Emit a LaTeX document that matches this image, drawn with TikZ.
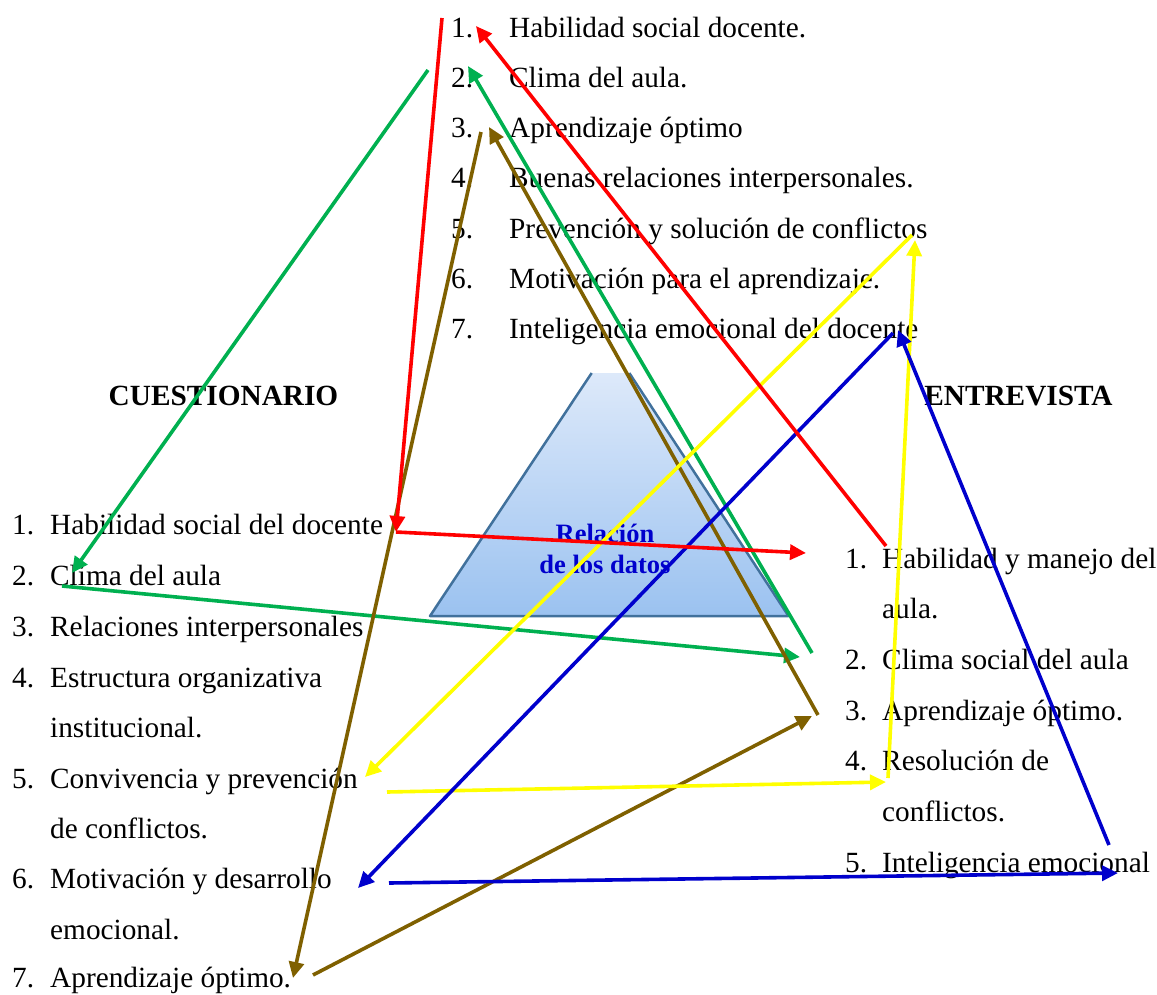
\documentclass[tikz,border=0pt]{standalone}
\usepackage{fontspec}
\setmainfont{Liberation Serif}
\usetikzlibrary{arrows.meta}
\definecolor{cred}{RGB}{255,0,0}
\definecolor{cgreen}{RGB}{0,176,80}
\definecolor{cbrown}{RGB}{127,96,0}
\definecolor{cyellow}{RGB}{255,255,0}
\definecolor{cblue}{RGB}{0,0,204}
\definecolor{triedge}{RGB}{65,113,156}
\definecolor{tritop}{RGB}{221,233,250}
\definecolor{tribot}{RGB}{155,194,240}
\definecolor{reltext}{RGB}{0,0,204}
\tikzset{
 txt/.style={anchor=base west, inner sep=0pt, font=\fontsize{29.3}{35}\selectfont},
 head/.style={anchor=base, inner sep=0pt, font=\fontsize{29.3}{35}\selectfont\bfseries},
 rel/.style={anchor=base, inner sep=0pt, text=reltext, font=\fontsize{26.5}{31}\selectfont\bfseries},
 link/.style={line width=3.6pt, -{Triangle[length=16pt,width=15pt]}},
}
\begin{document}
\begin{tikzpicture}[x=1pt,y=-1pt]
\useasboundingbox (0,0) rectangle (1157,994);
% triangle
\shade[top color=tritop, bottom color=tribot] (591.7,373) -- (430,616) -- (788.5,616) -- (629.3,373) -- cycle;
\draw[triedge, line width=2.5pt, line join=round] (591.7,373) -- (430,616) -- (788.5,616) -- (629.3,373);
\node[rel] (rel1) at (605,542) {Relación};
\node[rel] (rel2) at (605,573) {de los datos};
% headings
\node[head] (hc) at (223.5,405) {CUESTIONARIO};
\node[head] (he) at (1018.5,405) {ENTREVISTA};
% top list
\foreach \i/\t [count=\k] in {1/Habilidad social docente.,2/Clima del aula.,3/Aprendizaje óptimo,4/Buenas relaciones interpersonales.,5/Prevención y solución de conflictos,6/Motivación para el aprendizaje.,7/Inteligencia emocional del docente}{
  \node[txt] (tn\k) at (451,{37+50.3*(\k-1)}) {\i.};
  \node[txt] (tt\k) at (509,{37+50.3*(\k-1)}) {\t};
}
% left list
\node[txt] (ln1) at (12,534) {1.}; \node[txt] (lt1) at (50,534) {Habilidad social del docente};
\node[txt] (ln2) at (12,585) {2.}; \node[txt] (lt2) at (50,585) {Clima del aula};
\node[txt] (ln3) at (12,636) {3.}; \node[txt] (lt3) at (50,636) {Relaciones interpersonales};
\node[txt] (ln4) at (12,687) {4.}; \node[txt] (lt4) at (50,687) {Estructura organizativa};
\node[txt] (lt4b) at (50,737) {institucional.};
\node[txt] (ln5) at (12,788) {5.}; \node[txt] (lt5) at (50,788) {Convivencia y prevención};
\node[txt] (lt5b) at (50,838) {de conflictos.};
\node[txt] (ln6) at (12,888) {6.}; \node[txt] (lt6) at (50,888) {Motivación y desarrollo};
\node[txt] (lt6b) at (50,939) {emocional.};
\node[txt] (ln7) at (12,987) {7.}; \node[txt] (lt7) at (50,987) {Aprendizaje óptimo.};
% right list
\node[txt] (rn1) at (845,568) {1.}; \node[txt] (rt1) at (882,568) {Habilidad y manejo del};
\node[txt] (rt1b) at (882,618) {aula.};
\node[txt] (rn2) at (845,669) {2.}; \node[txt] (rt2) at (882,669) {Clima social del aula};
\node[txt] (rn3) at (845,720) {3.}; \node[txt] (rt3) at (882,720) {Aprendizaje óptimo.};
\node[txt] (rn4) at (845,770) {4.}; \node[txt] (rt4) at (882,770) {Resolución de};
\node[txt] (rt4b) at (882,821) {conflictos.};
\node[txt] (rn5) at (845,872) {5.}; \node[txt] (rt5) at (882,872) {Inteligencia emocional};
% connector end points
\coordinate (rA0) at (442,18); \coordinate (rA1) at (396,532); \coordinate (rA2) at (806,553);
\coordinate (rB0) at (886,546); \coordinate (rB1) at (476,26);
\coordinate (gA0) at (428,70); \coordinate (gA1) at (72,573);
\coordinate (gB0) at (62,586); \coordinate (gB1) at (800,657);
\coordinate (gC0) at (812,653); \coordinate (gC1) at (468,66);
\coordinate (bA0) at (481,132); \coordinate (bA1) at (293,978);
\coordinate (bB0) at (313,975); \coordinate (bB1) at (812,716);
\coordinate (bC0) at (818,715); \coordinate (bC1) at (489,127);
\coordinate (yA0) at (912,235); \coordinate (yA1) at (365,777);
\coordinate (yB0) at (387,792); \coordinate (yB1) at (886,782);
\coordinate (yC0) at (888,778); \coordinate (yC1) at (915,240);
\coordinate (uA0) at (893,333); \coordinate (uA1) at (358,888);
\coordinate (uB0) at (389,883); \coordinate (uB1) at (1118,873);
\coordinate (uC0) at (1109,845); \coordinate (uC1) at (898,330);
% connectors
\draw[link,cgreen] (gA0) -- (gA1);
\draw[link,cgreen] (gB0) -- (gB1);
\draw[link,cgreen] (gC0) -- (gC1);
\draw[link,cbrown] (bA0) -- (bA1);
\draw[link,cbrown] (bB0) -- (bB1);
\draw[link,cbrown] (bC0) -- (bC1);
\draw[link,cyellow] (yA0) -- (yA1);
\draw[link,cyellow] (yB0) -- (yB1);
\draw[link,cyellow] (yC0) -- (yC1);
\draw[link,cblue] (uA0) -- (uA1);
\draw[link,cblue] (uB0) -- (uB1);
\draw[link,cblue] (uC0) -- (uC1);
\draw[link,cred] (rA0) -- (rA1);
\draw[link,cred] (rA1) -- (rA2);
\draw[link,cred] (rB0) -- (rB1);
\end{tikzpicture}
\end{document}
